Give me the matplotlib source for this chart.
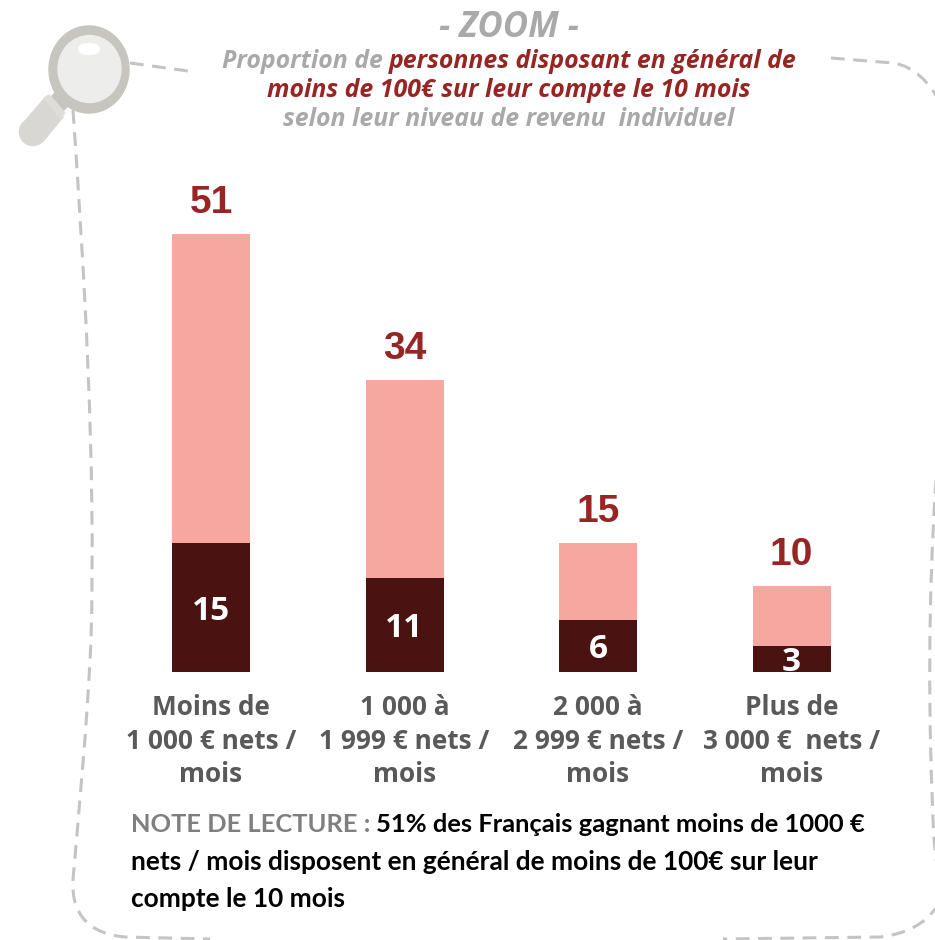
import matplotlib
matplotlib.use('Agg')
import matplotlib.pyplot as plt
from matplotlib.patches import Ellipse, Polygon, PathPatch
from matplotlib.path import Path

categories = ['Moins de\n1 000 € nets /\nmois', '1 000 à\n1 999 € nets /\nmois',
              '2 000 à\n2 999 € nets /\nmois', 'Plus de\n3 000 €  nets /\nmois']
total = [51, 34, 15, 10]
dark = [15, 11, 6, 3]

RED = '#962524'
GREY = '#A9A9A9'
TITLE_FONT = 'Open Sans'
W, H = 935, 940

fig = plt.figure(figsize=(W / 100, H / 100), dpi=100)

# bars: baseline at y=672px, 8.59 px per unit
ax = fig.add_axes([114.3 / W, (H - 672) / H, 774 / W, 515.4 / H])
x = range(len(total))
rest = [t - d for t, d in zip(total, dark)]
ax.bar(x, dark, width=0.403, color='#4A1210')
ax.bar(x, rest, width=0.403, bottom=dark, color='#F6A8A0')
ax.set_xlim(-0.5, 3.5)
ax.set_ylim(0, 60)
ax.axis('off')

for i in x:
    ax.annotate(str(total[i]), (i, total[i]), xytext=(0, 22.5), textcoords='offset points',
                ha='center', va='center', fontsize=28, fontweight='bold',
                family='Liberation Sans', color=RED)
    ax.annotate(str(dark[i]), (i, dark[i] / 2), xytext=(0, -2.5), textcoords='offset points',
                ha='center', va='center', fontsize=24,
                fontweight='bold', family='Open Sans', color='white')
    ax.annotate(categories[i], (i, 0), xytext=(0, -16), textcoords='offset points',
                ha='center', va='top', fontsize=18.9, fontweight='bold', linespacing=1.31,
                family='Open Sans', color='#595959')

# overlay in pixel coordinates for the frame, magnifier and headings
deco = fig.add_axes([0, 0, 1, 1], zorder=-1)
deco.set_xlim(0, W)
deco.set_ylim(H, 0)
deco.axis('off')

over = fig.add_axes([0, 0, 1, 1], zorder=5)
over.set_xlim(0, W)
over.set_ylim(H, 0)
over.axis('off')
over.patch.set_alpha(0)

M, L, C = Path.MOVETO, Path.LINETO, Path.CURVE4
frame = [
    ([(130, 63), (188, 71)], [M, L]),
    ([(73, 110), (84, 270), (96, 460), (91, 640), (87, 730), (78, 820), (73, 880),
      (71, 915), (90, 934), (125, 937), (210, 939)],
     [M, C, C, C, C, C, C, C, C, C, L]),
    ([(831, 58), (893, 63), (915, 66), (930, 85), (937, 97)], [M, L, C, C, C]),
    ([(936, 480), (928, 600), (928, 720), (934, 840), (936, 860), (940, 880), (938, 905),
      (925, 925), (905, 934), (880, 937), (723, 939)],
     [M, C, C, C, C, C, C, C, C, C, L]),
]
for verts, codes in frame:
    deco.add_patch(PathPatch(Path(verts, codes), fill=False, edgecolor='#C4C4C4', lw=2.2,
                             linestyle=(0, (4.5, 2.8))))

# magnifier
deco.add_patch(Polygon([(20, 127), (44, 99), (63, 117), (44, 140)], color='#D8D7D3'))
deco.add_patch(Ellipse((33, 132), 27, 27, color='#D8D7D3'))
deco.add_patch(Polygon([(44, 98), (49, 95), (65, 113), (60, 118)], color='#DEDDDA'))
deco.add_patch(Polygon([(52, 96), (60, 88), (72, 102), (64, 110)], color='#C6C5BF'))
deco.add_patch(Ellipse((89, 69.5), 80, 87, color='#C6C5BF'))
deco.add_patch(Ellipse((89.5, 69), 63, 67, color='#EDEDEB'))
deco.add_patch(Ellipse((89, 49), 21, 11, color='white'))


def mixed_line(parts, y, cx, size, family=TITLE_FONT, style='italic', centre=True):
    # draws coloured pieces one after another, centred on cx or starting at cx
    r = fig.canvas.get_renderer()
    items = [over.text(0, y, s, color=c, fontsize=size, family=family, style=style,
                       fontweight='bold', ha='left', va='baseline') for s, c in parts]
    widths = [t.get_window_extent(r).width for t in items]
    space = size * 0.32
    full = sum(widths) + space * (len(items) - 1)
    pos = cx - full / 2 if centre else cx
    for t, w in zip(items, widths):
        t.set_x(pos)
        pos += w + space


mixed_line([('- ZOOM -', GREY)], 37, 509, 25)
mixed_line([('Proportion de', GREY), ('personnes disposant en général de', RED)], 68, 509, 17.95)
mixed_line([('moins de 100€ sur leur compte le 10 mois', RED)], 97, 509, 17.95)
mixed_line([('selon leur niveau de revenu  individuel', GREY)], 126, 509, 17.95)

mixed_line([('NOTE DE LECTURE :', '#7F7F7F'),
            ('51% des Français gagnant moins de 1000 €', 'black')], 832, 131, 18.35,
           family='Lato', style='normal', centre=False)
mixed_line([('nets / mois disposent en général de moins de 100€ sur leur', 'black')], 870, 131, 18.9,
           family='Lato', style='normal', centre=False)
mixed_line([('compte le 10 mois', 'black')], 907, 131, 18.9, family='Lato', style='normal', centre=False)

fig.savefig('out.png', dpi=100)
